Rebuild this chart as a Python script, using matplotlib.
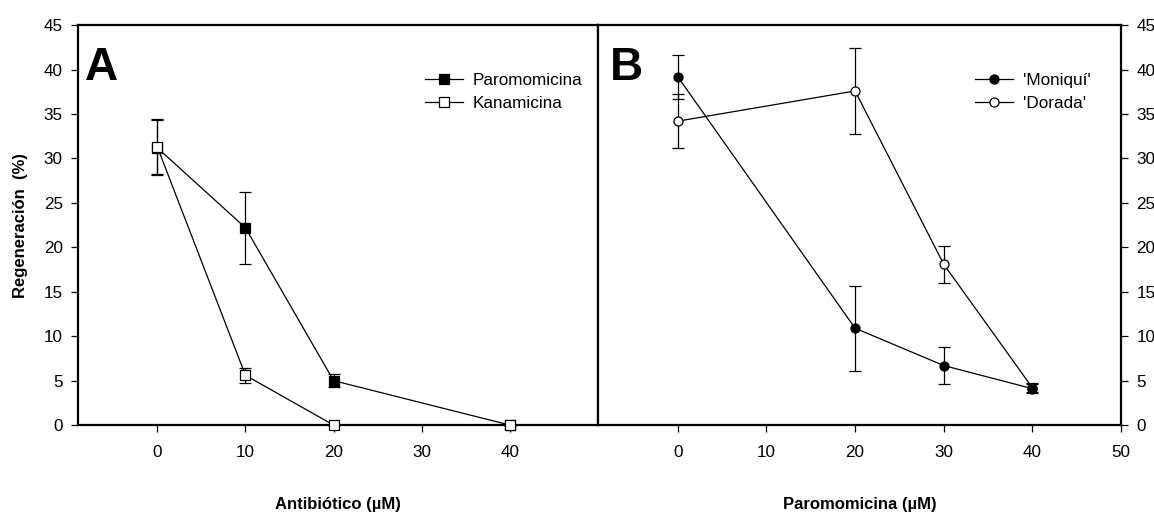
import matplotlib.pyplot as plt

plt.rcParams['font.family'] = ['Liberation Sans', 'DejaVu Sans']

# Panel A: regeneration vs antibiotic concentration
conc_a = [0, 10, 20, 40]
paro_a = [31.2, 22.2, 5.0, 0.0]
paro_a_err = [3.1, 4.05, 0.75, 0.0]
kana_a = [31.3, 5.6, 0.0, 0.0]
kana_a_err = [3.1, 0.85, 0.0, 0.0]

# Panel B: paromomicina on two cultivars
conc_b = [0, 20, 30, 40]
moniqui = [39.2, 10.9, 6.7, 4.1]
moniqui_err = [2.5, 4.8, 2.05, 0.5]
dorada = [34.2, 37.6, 18.1, 4.2]
dorada_err = [3.05, 4.8, 2.1, 0.5]

yticks = list(range(0, 50, 5))
xticks_a = [0, 10, 20, 30, 40]
xticks_b = [0, 10, 20, 30, 40, 50]

fig = plt.figure(figsize=(11.54, 5.14), dpi=100)
ax1 = fig.add_axes([0.0676, 0.173, 0.4506, 0.778])
ax2 = fig.add_axes([0.5182, 0.173, 0.4532, 0.778])

def draw(ax, x, y, err, marker, face, label):
    ax.errorbar(x, y, yerr=err, fmt='-' + marker, color='black', mfc=face,
                mec='black', ms=6.5, mew=0.9, lw=0.9, elinewidth=0.9,
                capsize=4.5, capthick=0.9, label=label, clip_on=False, zorder=5)

draw(ax1, conc_a, paro_a, paro_a_err, 's', 'black', 'Paromomicina')
draw(ax1, conc_a, kana_a, kana_a_err, 's', 'white', 'Kanamicina')
draw(ax2, conc_b, dorada, dorada_err, 'o', 'white', "'Dorada'")
draw(ax2, conc_b, moniqui, moniqui_err, 'o', 'black', "'Moniquí'")

for ax in (ax1, ax2):
    ax.set_ylim(0, 45)
    ax.set_xlim(-9, 50)
    ax.set_yticks(yticks)
    for s in ax.spines.values():
        s.set_linewidth(1.6)
    ax.tick_params(direction='out', length=5, width=0.9, labelsize=12.3, pad=6)

ax1.set_xticks(xticks_a)
ax2.set_xticks(xticks_b)
ax2.yaxis.tick_right()
ax1.tick_params(axis='x', pad=9)
ax2.tick_params(axis='x', pad=9)

ax1.set_ylabel('Regeneración  (%)', fontsize=12, fontweight='bold', labelpad=11)
ax1.set_xlabel('Antibiótico (µM)', fontsize=12, fontweight='bold', labelpad=27)
ax2.set_xlabel('Paromomicina (µM)', fontsize=12, fontweight='bold', labelpad=27)

ax1.text(0.014, 0.948, 'A', transform=ax1.transAxes, fontsize=33,
         fontweight='bold', va='top', ha='left')
ax2.text(0.022, 0.948, 'B', transform=ax2.transAxes, fontsize=33,
         fontweight='bold', va='top', ha='left')

# legends without error bars in the handles
h, l = ax1.get_legend_handles_labels()
ax1.legend([x[0] for x in h], l, loc='upper right', bbox_to_anchor=(1.0, 0.918),
           frameon=False, fontsize=12.3, handlelength=2.2, handletextpad=0.6,
           labelspacing=0.42)
h, l = ax2.get_legend_handles_labels()
ax2.legend([h[1][0], h[0][0]], [l[1], l[0]], loc='upper right',
           bbox_to_anchor=(0.972, 0.918), frameon=False, fontsize=12.3,
           handlelength=2.2, handletextpad=0.6, labelspacing=0.42)

fig.savefig('out.png', dpi=100)
